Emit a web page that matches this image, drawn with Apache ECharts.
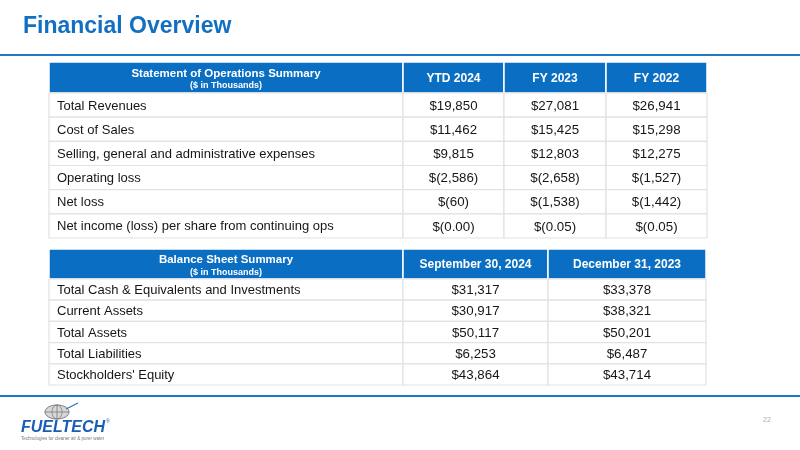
<!DOCTYPE html>
<html><head><meta charset="utf-8">
<script src="https://cdn.jsdelivr.net/npm/echarts@6/dist/echarts.min.js"></script>
<style>html,body{margin:0;padding:0;background:#fff}#c{width:800px;height:450px}</style>
</head><body><div id="c"></div>
<script>
// ---------- DATA ----------
const opsColumns = ['YTD 2024', 'FY 2023', 'FY 2022'];
const opsLabels = ['Total Revenues', 'Cost of Sales', 'Selling, general and administrative expenses',
  'Operating loss', 'Net loss', 'Net income (loss) per share from continuing ops'];
const opsYTD2024 = [19850, 11462, 9815, -2586, -60, -0.00];
const opsFY2023 = [27081, 15425, 12803, -2658, -1538, -0.05];
const opsFY2022 = [26941, 15298, 12275, -1527, -1442, -0.05];
const opsDecimals = [0, 0, 0, 0, 0, 2];

const bsColumns = ['September 30, 2024', 'December 31, 2023'];
const bsLabels = ['Total Cash & Equivalents and Investments', 'Current Assets', 'Total Assets',
  'Total Liabilities', "Stockholders' Equity"];
const bsSep2024 = [31317, 30917, 50117, 6253, 43864];
const bsDec2023 = [33378, 38321, 50201, 6487, 43714];
const bsDecimals = [0, 0, 0, 0, 0];

// ---------- STYLE ----------
const FONT = '"Liberation Sans", Arial, Helvetica, sans-serif';
const BLUE = '#0a6fc2';
const TEXT = '#161616';
const GRID_LINE = '#e2e2e2';

function fmtMoney(v, dec) {
  const neg = v < 0 || Object.is(v, -0);
  const s = Math.abs(v).toLocaleString('en-US', {minimumFractionDigits: dec, maximumFractionDigits: dec});
  return neg ? '$(' + s + ')' : '$' + s;
}

const tables = [
  {title: 'Statement of Operations Summary', sub: '($ in Thousands)', cols: opsColumns, labels: opsLabels,
   values: [opsYTD2024, opsFY2023, opsFY2022], decimals: opsDecimals,
   widths: [354, 101, 102, 101], left: 49, top: 62, headerH: 31, bodyH: 145},
  {title: 'Balance Sheet Summary', sub: '($ in Thousands)', cols: bsColumns, labels: bsLabels,
   values: [bsSep2024, bsDec2023], decimals: bsDecimals,
   widths: [354, 145, 158], left: 49, top: 249, headerH: 30, bodyH: 106}
];

const grid = [], xAxis = [], yAxis = [], series = [];
tables.forEach((t, ti) => {
  const total = t.widths.reduce((a, b) => a + b, 0);
  const edges = [0];
  t.widths.forEach(w => edges.push(edges[edges.length - 1] + w));
  const hi = grid.length, bi = hi + 1;
  grid.push({left: t.left, top: t.top, width: total, height: t.headerH});
  grid.push({left: t.left, top: t.top + t.headerH, width: total, height: t.bodyH});
  xAxis.push({type: 'value', gridIndex: hi, min: 0, max: total, show: false});
  xAxis.push({type: 'value', gridIndex: bi, min: 0, max: total, show: false});
  yAxis.push({type: 'category', gridIndex: hi, data: ['header'], show: false});
  yAxis.push({type: 'category', gridIndex: bi, data: t.labels, inverse: true, show: false});

  // header
  series.push({
    type: 'custom', xAxisIndex: hi, yAxisIndex: hi, clip: false, animation: false,
    data: t.widths.map((w, i) => [i, 0]),
    renderItem: (params, api) => {
      const c = api.value(0), r = api.value(1);
      const x0 = api.coord([edges[c], r])[0], x1 = api.coord([edges[c + 1], r])[0];
      const yc = api.coord([0, r])[1], h = api.size([0, 1])[1];
      const children = [{
        type: 'rect', shape: {x: x0, y: yc - h / 2, width: x1 - x0, height: h},
        style: {fill: BLUE, stroke: '#ffffff', lineWidth: 1.5}
      }];
      const cx = (x0 + x1) / 2;
      if (c === 0) {
        children.push({type: 'text', style: {text: t.title, x: cx, y: yc - 4, align: 'center', verticalAlign: 'middle',
          fontFamily: FONT, fontSize: 11.5, fontWeight: 'bold', fill: '#ffffff'}});
        children.push({type: 'text', style: {text: t.sub, x: cx, y: yc + 8.5, align: 'center', verticalAlign: 'middle',
          fontFamily: FONT, fontSize: 9, fontWeight: 'bold', fill: '#ffffff'}});
      } else {
        children.push({type: 'text', style: {text: t.cols[c - 1], x: cx, y: yc + 1, align: 'center', verticalAlign: 'middle',
          fontFamily: FONT, fontSize: 12, fontWeight: 'bold', fill: '#ffffff'}});
      }
      return {type: 'group', children};
    }
  });

  // body
  const bodyData = [];
  t.labels.forEach((l, r) => t.widths.forEach((w, c) => bodyData.push([c, r])));
  series.push({
    type: 'custom', xAxisIndex: bi, yAxisIndex: bi, clip: false, animation: false,
    data: bodyData,
    renderItem: (params, api) => {
      const c = api.value(0), r = api.value(1);
      const x0 = api.coord([edges[c], r])[0], x1 = api.coord([edges[c + 1], r])[0];
      const yc = api.coord([0, r])[1], h = api.size([0, 1])[1];
      const children = [{
        type: 'rect', shape: {x: x0, y: yc - h / 2, width: x1 - x0, height: h},
        style: {fill: '#ffffff', stroke: GRID_LINE, lineWidth: 1.2}
      }];
      if (c === 0) {
        children.push({type: 'text', style: {text: t.labels[r], x: x0 + 8, y: yc + 1, align: 'left', verticalAlign: 'middle',
          fontFamily: FONT, fontSize: 13, fill: TEXT}});
      } else {
        children.push({type: 'text', style: {text: fmtMoney(t.values[c - 1][r], t.decimals[r]), x: (x0 + x1) / 2, y: yc + 1,
          align: 'center', verticalAlign: 'middle', fontFamily: FONT, fontSize: 13.3, fill: TEXT}});
      }
      return {type: 'group', children};
    }
  });
});

const chart = echarts.init(document.getElementById('c'));
chart.setOption({
  backgroundColor: '#ffffff',
  animation: false,
  grid, xAxis, yAxis, series,
  graphic: [
    {type: 'text', left: 23, top: 15, style: {text: 'Financial Overview', fontFamily: FONT, fontSize: 23, fontWeight: 'bold', fill: '#1270c2'}},
    {type: 'rect', shape: {x: 0, y: 54, width: 800, height: 2}, style: {fill: '#1f78c4'}},
    {type: 'rect', shape: {x: 0, y: 395, width: 800, height: 2}, style: {fill: '#1f78c4'}},
    // logo
    {type: 'group', children: [
      {type: 'ellipse', shape: {cx: 57, cy: 412, rx: 12, ry: 7}, style: {fill: '#d8d8d8', stroke: '#7a7a7a', lineWidth: 1}},
      {type: 'line', shape: {x1: 45, y1: 412, x2: 69, y2: 412}, style: {stroke: '#7a7a7a', lineWidth: 0.8}},
      {type: 'line', shape: {x1: 57, y1: 405, x2: 57, y2: 419}, style: {stroke: '#7a7a7a', lineWidth: 0.8}},
      {type: 'ellipse', shape: {cx: 57, cy: 412, rx: 5, ry: 7}, style: {fill: 'none', stroke: '#7a7a7a', lineWidth: 0.8}},
      {type: 'line', shape: {x1: 66, y1: 409, x2: 78, y2: 403}, style: {stroke: '#2a6fc0', lineWidth: 1.2}},
      {type: 'text', x: 21, y: 420, style: {text: 'FUELTECH', fontFamily: FONT, fontSize: 16, fontWeight: 'bold', fontStyle: 'italic', fill: '#1a5db5'}},
      {type: 'text', x: 106, y: 419, style: {text: '®', fontFamily: FONT, fontSize: 5, fill: '#1a5db5'}},
      {type: 'text', x: 21, y: 436, style: {text: 'Technologies for cleaner air & purer water', fontFamily: FONT, fontSize: 4.5, fill: '#777777'}}
    ]},
    {type: 'text', x: 763, y: 417, style: {text: '22', fontFamily: FONT, fontSize: 7, fill: '#aaaaaa'}}
  ]
});
</script>
</body></html>
